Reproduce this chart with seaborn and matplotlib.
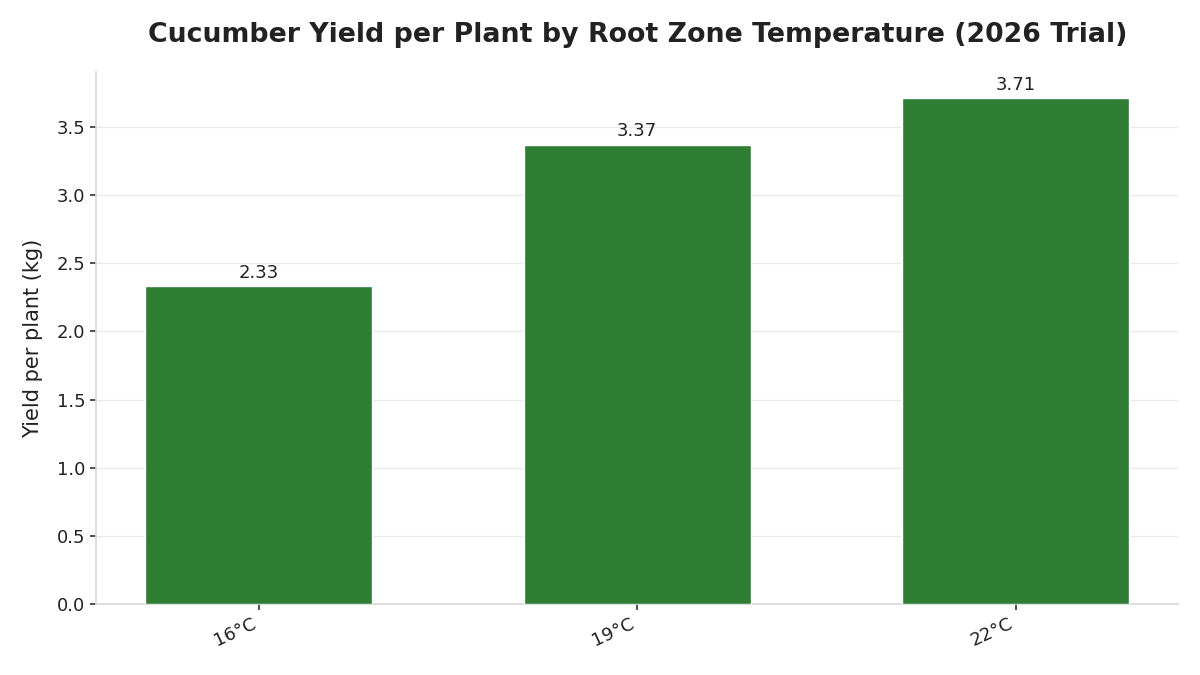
import matplotlib
matplotlib.use("Agg")
import matplotlib.pyplot as plt
import seaborn as sns
import pandas as pd

categories = ["16°C", "19°C", "22°C"]
yields = [2.33, 3.37, 3.71]

df = pd.DataFrame({"temp": categories, "yield": yields})

sns.set_theme(style="white")
plt.rcParams['font.family'] = ['DejaVu Sans']

fig = plt.figure(figsize=(12, 6.75), dpi=100)
ax = fig.add_axes([0.08, 0.105, 0.902, 0.788])
sns.barplot(data=df, x="temp", y="yield", color="#2e7d32", width=0.6,
            saturation=1, ax=ax, zorder=3)

for i, v in enumerate(yields):
    ax.annotate(f"{v:.2f}", (i, v), xytext=(0, 3), textcoords="offset points",
                ha="center", va="bottom", fontsize=13, color="#222222")

ax.set_xlim(-0.43, 2.43)
ax.set_ylim(0, 3.9)
ax.set_yticks([0, 0.5, 1.0, 1.5, 2.0, 2.5, 3.0, 3.5])
ax.yaxis.grid(True, color="#ebebeb", linewidth=1, zorder=0)
ax.set_axisbelow(True)
ax.set_xlabel("")
ax.set_ylabel("Yield per plant (kg)", fontsize=15, color="#222222", labelpad=10)
ax.set_title("Cucumber Yield per Plant by Root Zone Temperature (2026 Trial)",
             fontsize=19.3, fontweight="bold", color="#222222", pad=22)
for s in ["top", "right"]:
    ax.spines[s].set_visible(False)
for s in ["left", "bottom"]:
    ax.spines[s].set_color("#d8d8d8")
    ax.spines[s].set_linewidth(1.2)
ax.tick_params(axis="both", which="both", length=4, width=1.2, color="#333333",
               labelsize=13, labelcolor="#222222", bottom=True, left=True)
plt.setp(ax.get_xticklabels(), rotation=25, ha="right")

fig.savefig("out.png", dpi=100)
